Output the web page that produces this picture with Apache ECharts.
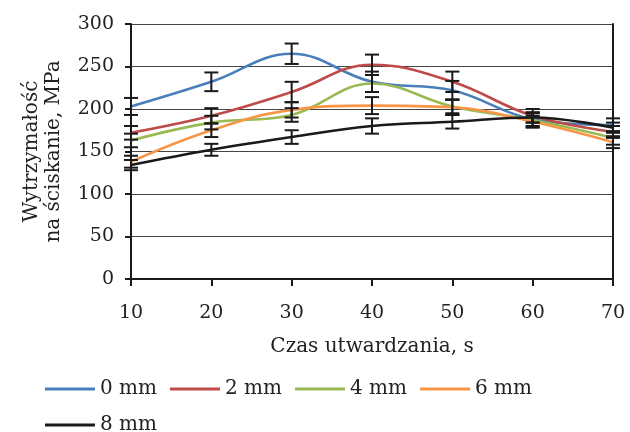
<!DOCTYPE html>
<html>
<head>
<meta charset="utf-8">
<script src="https://cdn.jsdelivr.net/npm/echarts@6/dist/echarts.min.js"></script>
<style>
  html, body { margin: 0; padding: 0; background: #fff; }
  #chart { width: 630px; height: 432px; }
</style>
</head>
<body>
<div id="chart"></div>
<script>
// czas utwardzania [s]
const time = [10, 20, 30, 40, 50, 60, 70]
const names = ['0 mm', '2 mm', '4 mm', '6 mm', '8 mm']
const colors = ['#4A7EBB', '#BE4B48', '#98B954', '#F79646', '#1a1a1a']

// wytrzymałość na ściskanie [MPa]
const s0 = [203, 232, 265, 232, 222, 188, 181]
const s2 = [172, 192, 220, 252, 232, 192, 173]
const s4 = [163, 184, 193, 230, 203, 187, 166]
const s6 = [138, 175, 199, 204, 202, 185, 161]
const s8 = [134, 152, 167, 180, 185, 190, 178]

// odchylenia (słupki błędów)
const e0 = [10, 11, 12, 12, 11, 8, 8]
const e2 = [8, 9, 12, 12, 12, 8, 7]
const e4 = [8, 8, 8, 10, 8, 8, 8]
const e6 = [7, 8, 9, 10, 9, 7, 7]
const e8 = [6, 7, 8, 9, 8, 6, 6]

const values = [s0, s2, s4, s6, s8]
const errors = [e0, e2, e4, e6, e8]

const font = 'DejaVu Serif'

const lineSeries = values.map((v, i) => ({
  name: names[i],
  type: 'line',
  smooth: 0.4,
  symbol: 'none',
  data: time.map((t, j) => [t, v[j]]),
  lineStyle: { color: colors[i], width: 2.6 },
  itemStyle: { color: colors[i] },
  z: 2,
}))

const errSeries = values.map((v, i) => ({
  name: 'err ' + names[i],
  type: 'custom',
  data: time.map((t, j) => [t, v[j] - errors[i][j], v[j] + errors[i][j]]),
  encode: { x: 0, y: [1, 2] },
  z: 5,
  renderItem: (params, api) => {
    const x = api.value(0)
    const lo = api.coord([x, api.value(1)])
    const hi = api.coord([x, api.value(2)])
    const w = 7
    const st = { stroke: '#1a1a1a', lineWidth: 2 }
    return {
      type: 'group',
      children: [
        { type: 'line', shape: { x1: lo[0], y1: lo[1], x2: hi[0], y2: hi[1] }, style: st },
        { type: 'line', shape: { x1: lo[0] - w, y1: lo[1], x2: lo[0] + w, y2: lo[1] }, style: st },
        { type: 'line', shape: { x1: hi[0] - w, y1: hi[1], x2: hi[0] + w, y2: hi[1] }, style: st },
      ],
    }
  },
}))

const legendBase = {
  left: 40,
  icon: 'rect',
  itemWidth: 50,
  itemHeight: 3,
  itemGap: 13,
  textStyle: { fontFamily: font, fontSize: 20, color: '#222' },
}

const chart = echarts.init(document.getElementById('chart'))
chart.setOption({
  backgroundColor: '#fff',
  animation: false,
  grid: { left: 131, right: 17, top: 24, bottom: 153 },
  legend: [
    Object.assign({}, legendBase, { top: 374, data: names.slice(0, 4) }),
    Object.assign({}, legendBase, { top: 410, data: names.slice(4) }),
  ],
  xAxis: {
    type: 'value',
    min: 10,
    max: 70,
    interval: 10,
    name: 'Czas utwardzania, s',
    nameLocation: 'middle',
    nameGap: 58,
    nameTextStyle: { fontFamily: font, fontSize: 20, color: '#222' },
    axisLine: { lineStyle: { color: '#1a1a1a', width: 2 } },
    axisTick: { length: 7, lineStyle: { color: '#1a1a1a', width: 2 } },
    axisLabel: { fontFamily: font, fontSize: 19, color: '#222', margin: 25 },
    splitLine: { show: false },
  },
  yAxis: [
    {
      type: 'value',
      min: 0,
      max: 300,
      interval: 50,
      name: 'Wytrzymałość\nna ściskanie, MPa',
      nameLocation: 'middle',
      nameRotate: 90,
      nameGap: 66,
      nameTextStyle: { fontFamily: font, fontSize: 20, color: '#222', lineHeight: 22 },
      axisLine: { show: true, lineStyle: { color: '#1a1a1a', width: 2 } },
      axisTick: { show: true, length: 6, lineStyle: { color: '#1a1a1a', width: 2 } },
      axisLabel: { fontFamily: font, fontSize: 19, color: '#222', margin: 17 },
      splitLine: { lineStyle: { color: '#444', width: 1.2 } },
    },
    {
      type: 'value',
      min: 0,
      max: 300,
      position: 'right',
      axisLine: { show: true, lineStyle: { color: '#1a1a1a', width: 2 } },
      axisTick: { show: false },
      axisLabel: { show: false },
      splitLine: { show: false },
    },
  ],
  series: lineSeries.concat(errSeries),
})
</script>
</body>
</html>
